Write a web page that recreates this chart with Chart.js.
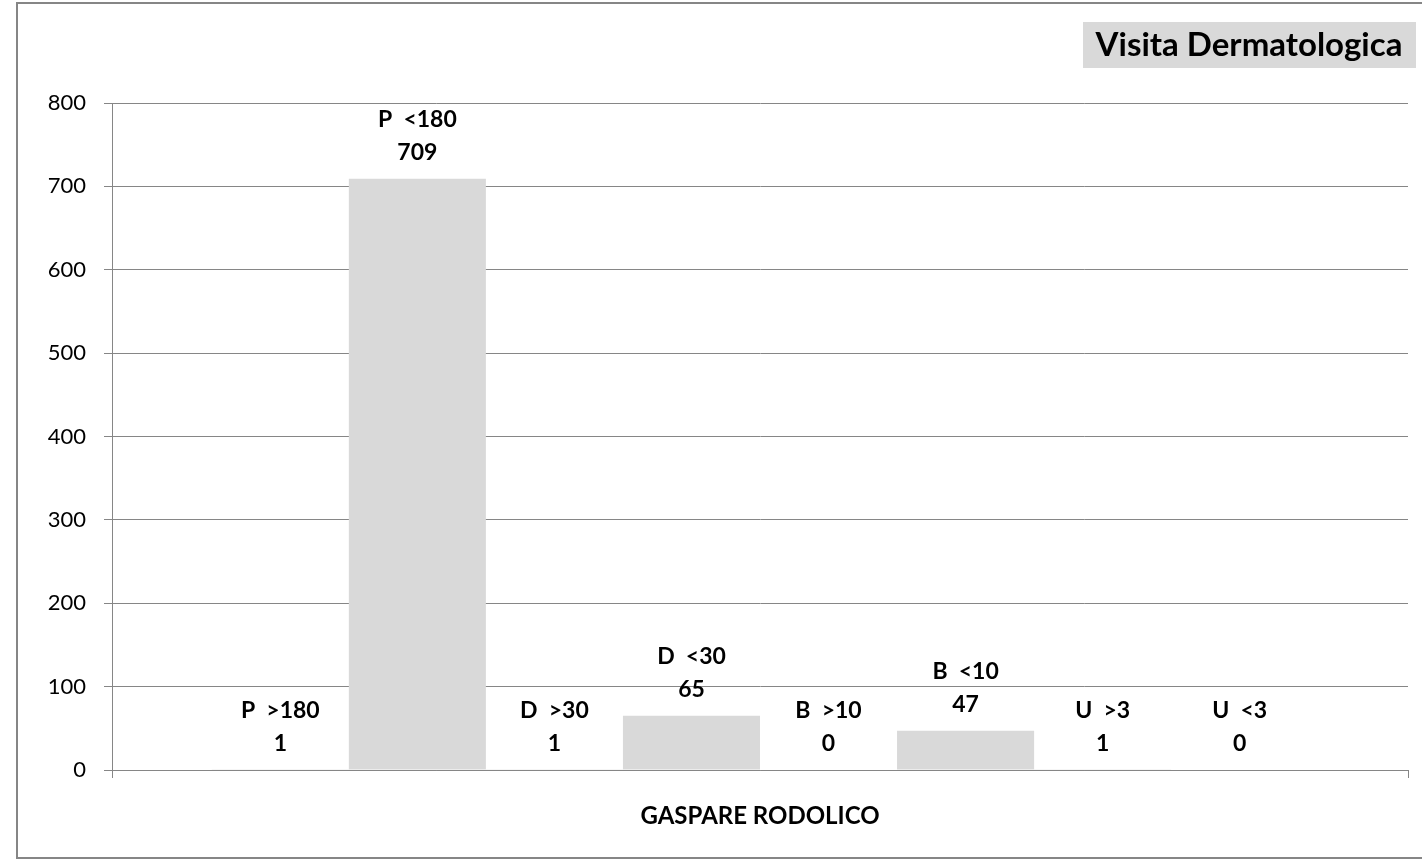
<!DOCTYPE html>
<html>
<head>
<meta charset="utf-8">
<style>
  html, body { margin: 0; padding: 0; background: #fff; }
  #wrap { width: 1422px; height: 861px; position: relative; }
</style>
<script src="https://cdn.jsdelivr.net/npm/chart.js@4.4.1/dist/chart.umd.min.js"></script>
</head>
<body>
<div id="wrap"><canvas id="myChart" width="1422" height="861"></canvas></div>
<script>
const categories = ['GASPARE RODOLICO'];
const seriesNames = ['P  >180', 'P  <180', 'D  >30', 'D  <30', 'B  >10', 'B  <10', 'U  >3', 'U  <3'];
const seriesValues = [1, 709, 1, 65, 0, 47, 1, 0];
const yTicks = [0, 100, 200, 300, 400, 500, 600, 700, 800];
const chartTitle = 'Visita Dermatologica';

const FONT = 'Lato, "Open Sans", sans-serif';
const GRID = '#868686';

// frame + title box
const framePlugin = {
    id: 'frame',
    beforeDraw(chart) {
        const c = chart.ctx;
        c.save();
        c.fillStyle = '#fff';
        c.fillRect(0, 0, chart.width, chart.height);
        c.strokeStyle = GRID;
        c.lineWidth = 2;
        c.strokeRect(17, 3, 1410, 855);
        c.restore();
    },
    afterDraw(chart) {
        const c = chart.ctx;
        c.save();
        c.fillStyle = '#d9d9d9';
        c.fillRect(1083, 22, 333, 46);
        c.fillStyle = '#000';
        c.font = 'bold 33px ' + FONT;
        c.textAlign = 'center';
        c.textBaseline = 'middle';
        c.fillText(chartTitle, 1249, 45);
        c.restore();
    }
};

// name + value above every bar
const barLabels = {
    id: 'barLabels',
    afterDatasetsDraw(chart) {
        const c = chart.ctx;
        c.save();
        c.fillStyle = '#000';
        c.font = 'bold 23px ' + FONT;
        c.textAlign = 'center';
        c.textBaseline = 'middle';
        chart.data.datasets.forEach((ds, i) => {
            const bar = chart.getDatasetMeta(i).data[0];
            c.fillText(ds.label, bar.x, bar.y - 59);
            c.fillText(String(ds.data[0]), bar.x, bar.y - 26);
        });
        c.restore();
    }
};

const ctx = document.getElementById('myChart').getContext('2d');

new Chart(ctx, {
    type: 'bar',
    data: {
        labels: categories,
        datasets: seriesNames.map((name, i) => ({
            label: name,
            data: [seriesValues[i]],
            backgroundColor: '#d9d9d9',
            borderWidth: 0,
            categoryPercentage: 0.846,
            barPercentage: 1
        }))
    },
    options: {
        responsive: false,
        animation: false,
        layout: { padding: { top: 103, right: 14, left: 0, bottom: 0 } },
        plugins: {
            legend: { display: false },
            tooltip: { enabled: false }
        },
        scales: {
            x: {
                grid: { display: true, drawOnChartArea: false, color: GRID, tickLength: 8 },
                border: { color: GRID, width: 1 },
                ticks: { color: '#000', font: { family: FONT, size: 24, weight: 'bold' }, padding: 24 },
                afterFit(scale) { scale.height = 91; }
            },
            y: {
                min: 0,
                max: 800,
                grid: { color: GRID, tickLength: 8 },
                border: { color: GRID, width: 1 },
                afterBuildTicks(scale) { scale.ticks = yTicks.map(v => ({ value: v })); },
                ticks: { color: '#000', font: { family: FONT, size: 22 }, padding: 18 },
                afterFit(scale) { scale.width = 112; }
            }
        }
    },
    plugins: [framePlugin, barLabels]
});
</script>
</body>
</html>
